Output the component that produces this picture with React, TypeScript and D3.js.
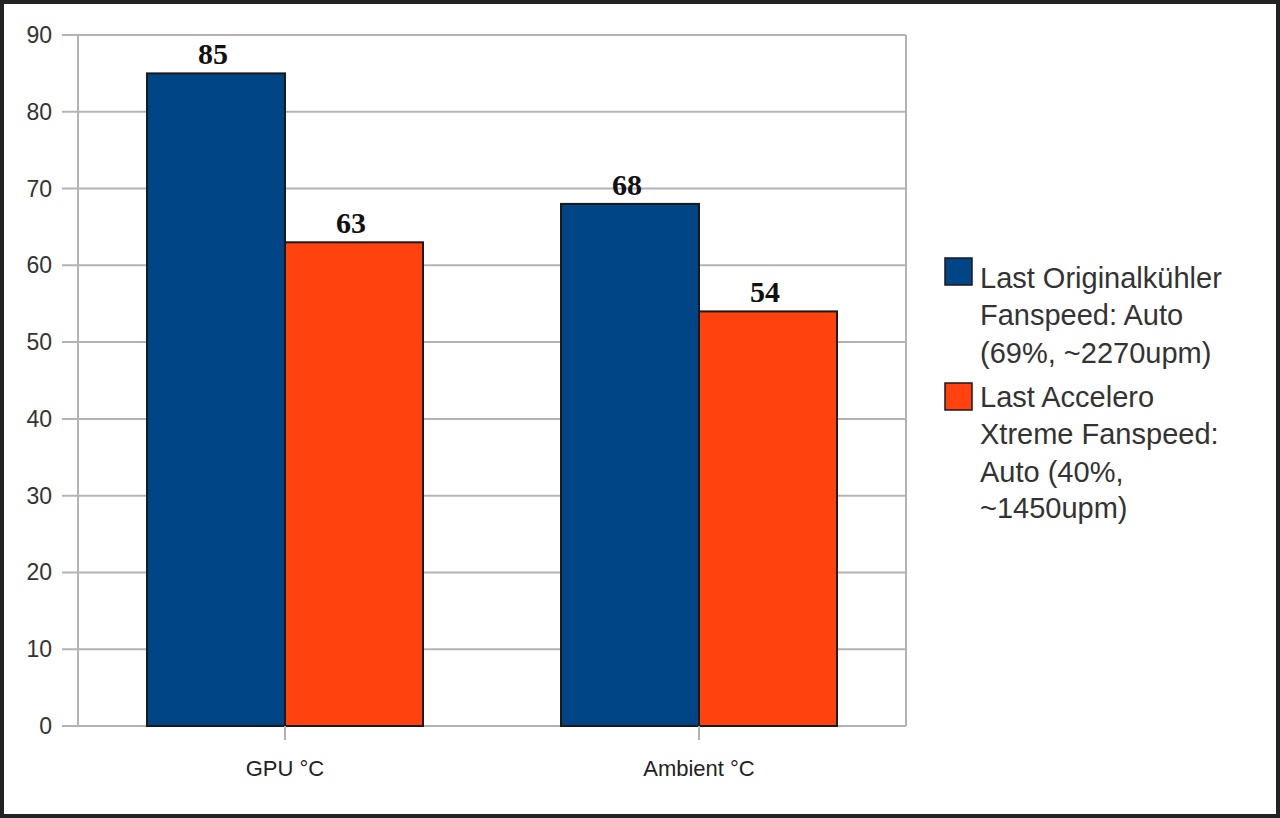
import React from "react";
import * as d3 from "d3";

const categories = ["GPU °C", "Ambient °C"];
const seriesNames = ["Last Originalkühler", "Last Accelero"];
const originalValues = [85, 68];
const acceleroValues = [63, 54];
const yTicks = [0, 10, 20, 30, 40, 50, 60, 70, 80, 90];
const legendLines = [
  ["Last Originalkühler", "Fanspeed: Auto", "(69%, ~2270upm)"],
  ["Last Accelero", "Xtreme Fanspeed:", "Auto (40%,", "~1450upm)"],
];
const colors = ["#004586", "#ff420e"];

export default function App() {
  const W = 1280, H = 818;
  const left = 78, right = 906, top = 35, bottom = 726;
  const y = d3.scaleLinear().domain([0, 90]).range([bottom, top]);
  const x0 = d3.scaleBand<string>().domain(categories).range([left, right]).padding(0);
  const bw = x0.bandwidth();
  const x1 = d3.scaleBand<string>().domain(seriesNames).range([bw / 6, (bw * 5) / 6]).padding(0);
  const seriesValues = [originalValues, acceleroValues];
  const sans = "'Liberation Sans', Arial, sans-serif";

  const legendStarts = [258, 383];
  const legendBaselines = [
    [288, 325, 363],
    [407, 444, 482, 518],
  ];

  return (
    <svg width={W} height={H} style={{ position: "absolute", left: 0, top: 0, background: "#fff" }}>
      <rect x={0} y={0} width={W} height={H} fill="#fff" />
      {yTicks.map((t) => (
        <g key={t}>
          <line x1={62} x2={right} y1={y(t)} y2={y(t)} stroke="#b3b3b3" strokeWidth={2} />
          <text x={52} y={y(t) + 8} textAnchor="end" fontFamily={sans} fontSize={23} fill="#333">
            {t}
          </text>
        </g>
      ))}
      <line x1={left} x2={left} y1={top} y2={bottom} stroke="#b3b3b3" strokeWidth={2} />
      <line x1={right} x2={right} y1={top} y2={bottom} stroke="#b3b3b3" strokeWidth={2} />
      {categories.map((c, ci) => (
        <g key={c}>
          {seriesNames.map((s, si) => {
            const v = seriesValues[si][ci];
            const bx = (x0(c) as number) + (x1(s) as number);
            return (
              <g key={s}>
                <rect
                  x={bx}
                  y={y(v)}
                  width={x1.bandwidth()}
                  height={bottom - y(v)}
                  fill={colors[si]}
                  stroke="#1a1a1a"
                  strokeWidth={2}
                />
                <text
                  x={bx + x1.bandwidth() / 2 - 3}
                  y={y(v) - 9}
                  textAnchor="middle"
                  fontFamily="'Liberation Serif', 'Times New Roman', serif"
                  fontWeight="bold"
                  fontSize={30}
                  fill="#111"
                >
                  {v}
                </text>
              </g>
            );
          })}
          <line
            x1={(x0(c) as number) + bw / 2}
            x2={(x0(c) as number) + bw / 2}
            y1={bottom}
            y2={bottom + 14}
            stroke="#b3b3b3"
            strokeWidth={2}
          />
          <text
            x={(x0(c) as number) + bw / 2}
            y={776}
            textAnchor="middle"
            fontFamily={sans}
            fontSize={22}
            fill="#222"
          >
            {c}
          </text>
        </g>
      ))}
      {legendLines.map((lines, i) => (
        <g key={i}>
          <rect x={945} y={legendStarts[i]} width={27} height={27} fill={colors[i]} stroke="#1a1a1a" strokeWidth={1.5} />
          {lines.map((l, j) => (
            <text key={j} x={980} y={legendBaselines[i][j]} fontFamily={sans} fontSize={29} fill="#333">
              {l}
            </text>
          ))}
        </g>
      ))}
      <rect x={2} y={2} width={W - 4} height={H - 4} fill="none" stroke="#222" strokeWidth={4} />
    </svg>
  );
}
